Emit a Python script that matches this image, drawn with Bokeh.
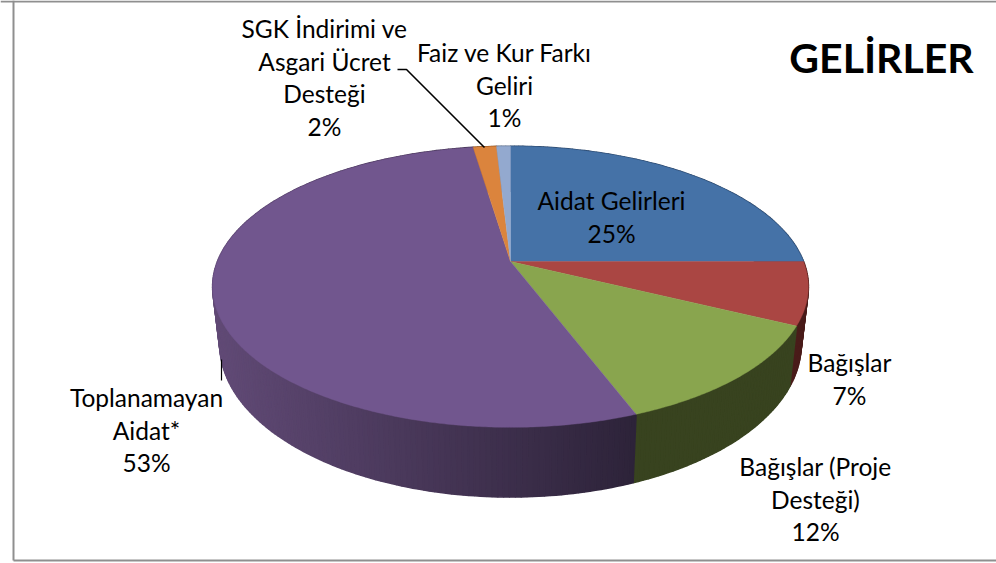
import numpy as np
from bokeh.plotting import figure
from bokeh.embed import file_html
from bokeh.resources import INLINE
from bokeh.core.properties import value

# ---- chart data
categories = ["Aidat Gelirleri", "Bağışlar", "Bağışlar (Proje Desteği)",
              "Toplanamayan Aidat*", "SGK İndirimi ve Asgari Ücret Desteği",
              "Faiz ve Kur Farkı Geliri"]
shares = [25.0, 7.2, 12.0, 53.4, 1.5, 0.9]
top_colors = ["#4572a7", "#aa4643", "#89a54e", "#71568e", "#db843d", "#93a9cf"]
side_left = ["#2b4669", "#4a1c1a", "#38431f", "#614a76", "#8a5020", "#5a6a85"]
side_right = ["#2b4669", "#4a1c1a", "#38431f", "#2d2339", "#8a5020", "#5a6a85"]

title = "GELİRLER"
label_lines = [
    ["Aidat Gelirleri", "25%"],
    ["Bağışlar", "7%"],
    ["Bağışlar (Proje", "Desteği)", "12%"],
    ["Toplanamayan", "Aidat*", "53%"],
    ["SGK İndirimi ve", "Asgari Ücret", "Desteği", "2%"],
    ["Faiz ve Kur Farkı", "Geliri", "1%"],
]
label_centers = [(611, 200), (849, 362), (815, 466), (146, 397), (324, 28), (504, 52)]
line_step = 32.5

# ---- projection of the pie discs
CX, TOP_Y, BOT_Y = 510.0, 261.0, 316.0
RX, A_TOP, A_BOT = 293.0, 136.0, 148.0
K, SHRINK = 0.18, 0.976


def project(theta, base_y, amp, scale):
    u, v = np.sin(theta), np.cos(theta)
    d = 1 + K * v
    return CX + scale * RX * u / d, base_y - amp * v / d


def hex_rgb(c):
    return np.array([int(c[i:i + 2], 16) for i in (1, 3, 5)], dtype=float)


p = figure(width=996, height=563, x_range=(0, 996), y_range=(563, 0),
           output_backend="svg", toolbar_location=None, min_border=0,
           outline_line_color=None, background_fill_color="white",
           styles={"position": "absolute", "left": "0", "top": "0"})
p.axis.visible = False
p.grid.visible = False

edges = np.cumsum([0.0] + shares) / sum(shares) * 2 * np.pi

# side wall, as narrow strips, back to front
strips = []
for i in range(len(shares)):
    n = max(2, int((edges[i + 1] - edges[i]) * 60))
    t = np.linspace(edges[i], edges[i + 1], n + 1)
    tx = project(t, TOP_Y, A_TOP, 1)[0]
    lo, hi = tx.min(), tx.max()
    for a, b in zip(t[:-1], t[1:]):
        x1, y1 = project(np.array([a, b]), TOP_Y, A_TOP, 1)
        x2, y2 = project(np.array([b, a]), BOT_Y, A_BOT, SHRINK)
        f = float(np.clip((x1.mean() - lo) / max(hi - lo, 1), 0, 1))
        rgb = hex_rgb(side_left[i]) * (1 - f) + hex_rgb(side_right[i]) * f
        col = "#%02x%02x%02x" % tuple(int(round(c)) for c in rgb)
        strips.append((np.cos((a + b) / 2), list(x1) + list(x2), list(y1) + list(y2), col))
strips.sort(key=lambda s: -s[0])
p.patches([s[1] for s in strips], [s[2] for s in strips], fill_color=[s[3] for s in strips],
          line_color=[s[3] for s in strips], line_width=1.6)

# top face
for i in range(len(shares)):
    n = max(4, int((edges[i + 1] - edges[i]) * 120))
    t = np.linspace(edges[i], edges[i + 1], n + 1)
    x, y = project(t, TOP_Y, A_TOP, 1)
    p.patch([CX] + list(x), [TOP_Y] + list(y), fill_color=top_colors[i],
            line_color=top_colors[i], line_width=0.4)

# leader lines
p.line([397, 406, 484], [69, 69, 147], line_color="black", line_width=1.6)
p.line([221, 221], [359, 380], line_color="black", line_width=1.2)

# frame
p.multi_line([[13, 13], [0, 996], [13, 996]], [[0, 560], [1, 1], [560, 560]],
             line_color="#8f8f8f", line_width=2)

# labels
xs, ys, texts = [], [], []
for (cx, cy), lines in zip(label_centers, label_lines):
    for j, s in enumerate(lines):
        xs.append(cx)
        ys.append(cy + j * line_step)
        texts.append(s)
p.text(xs, ys, text=texts, text_font=value("Lato"), text_font_size=value("24.5px"),
       text_align="center", text_baseline="middle", text_color="black")
p.text([881], [57], text=[title], text_font=value("Lato"), text_font_size=value("41px"),
       text_font_style="bold", text_align="center", text_baseline="middle", text_color="black")

open("out.html", "w").write(file_html(p, INLINE))
